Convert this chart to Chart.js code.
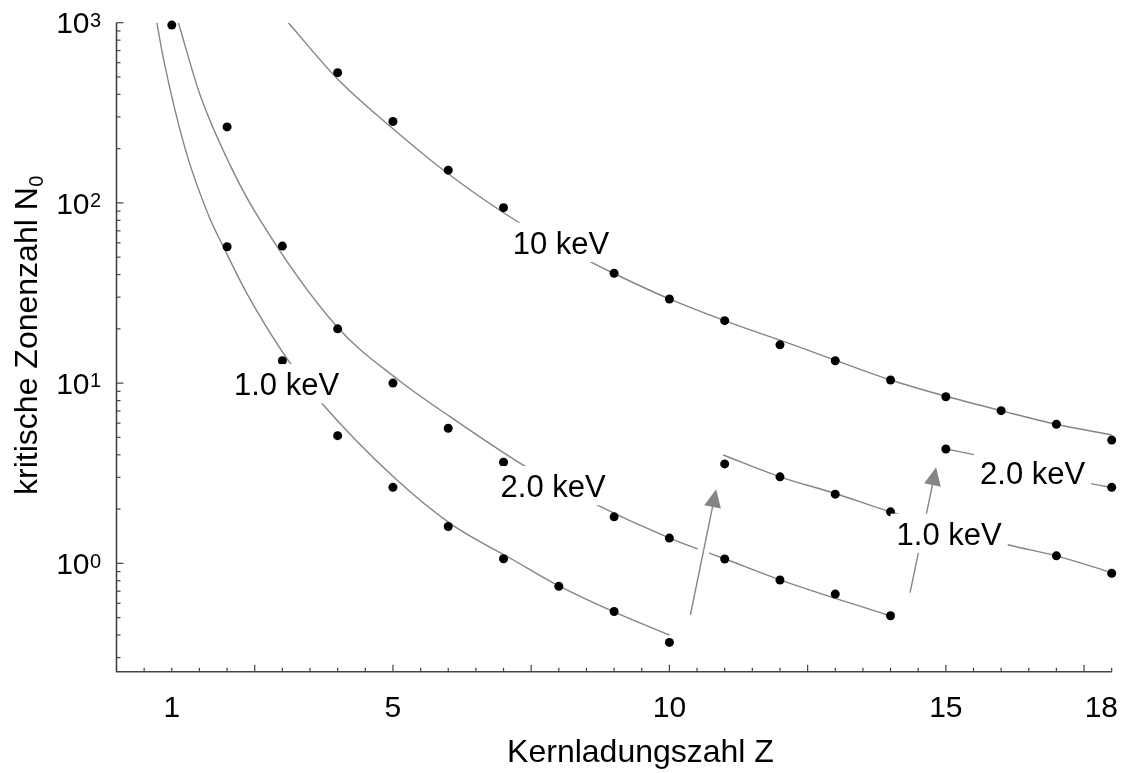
<!DOCTYPE html>
<html>
<head>
<meta charset="utf-8">
<script src="https://cdn.jsdelivr.net/npm/chart.js@4.4.1/dist/chart.umd.min.js"></script>
<style>
  html, body { margin: 0; padding: 0; background: #fff; }
  #wrap { width: 1135px; height: 773px; }
</style>
</head>
<body>
<div id="wrap"><canvas id="chart" width="1135" height="773"></canvas></div>
<script>
const z1K = [1, 2, 3, 4, 5, 6, 7, 8, 9, 10];
const n1K = [970, 57.1, 13.3, 5.11, 2.64, 1.60, 1.06, 0.745, 0.54, 0.364];
const z2K = [2, 3, 4, 5, 6, 7, 9, 10, 11, 12, 13, 14];
const n2K = [264, 57.6, 20.0, 10.0, 5.62, 3.64, 1.81, 1.38, 1.057, 0.808, 0.675, 0.512];
const z10 = [4, 5, 6, 7, 9, 10, 11, 12, 13, 14, 15, 16, 17, 18];
const n10 = [528, 283, 152, 94.1, 40.7, 29.3, 22.2, 16.3, 13.3, 10.4, 8.4, 7.03, 5.91, 4.83];
const z1L = [11, 12, 13, 14, 17, 18];
const n1L = [3.56, 3.02, 2.42, 1.93, 1.10, 0.88];
const z2L = [15, 18];
const n2L = [4.31, 2.64];

// fitted curves, sampled from the figure
const fit1Kz = [0.73, 0.848, 1.241, 1.662, 1.933, 2.357, 3.14, 3.713, 5.008, 6.034, 7.178, 7.992, 8.987, 10.0];
const fit1Kn = [1000, 634, 200, 85.7, 57.1, 31.5, 12.9, 7.73, 3.02, 1.667, 1.043, 0.751, 0.539, 0.40];
const fit2Kz = [1.12, 1.512, 2.055, 2.537, 3.984, 5.099, 6.034, 7.421, 8.566, 10.013, 11, 12, 14];
const fit2Kn = [1000, 397, 162, 86, 20.6, 10.4, 6.51, 3.41, 2.197, 1.376, 1.06, 0.81, 0.51];
const fit10z = [3.109, 3.984, 4.948, 5.974, 7.30, 8.566, 8.987, 10, 11, 12.364, 14, 15, 16, 17, 18];
const fit10n = [1000, 492, 266, 147, 77.1, 47.2, 40.7, 29.3, 22.2, 15.8, 10.4, 8.45, 7.03, 5.91, 5.15];
const fit1Lz = [10.97, 12, 13, 14, 16.16, 17, 18];
const fit1Ln = [3.99, 3.02, 2.44, 1.93, 1.26, 1.10, 0.887];
const fit2Lz = [15, 15.53, 17.64, 18];
const fit2Ln = [4.31, 4.0, 2.76, 2.64];

// curve labels
const labelText = ['1.0 keV', '10 keV', '2.0 keV', '1.0 keV', '2.0 keV'];
const labelZ = [3.076, 8.04, 7.897, 15.06, 16.57];
const labelN = [9.86, 60.0, 2.68, 1.458, 3.18];

// shell-edge arrows
const arrowFromZ = [10.38, 14.353];
const arrowFromN = [0.517, 0.687];
const arrowToZ = [10.846, 14.824];
const arrowToN = [2.575, 3.41];

// axes
const xTickLabels = [1, 5, 10, 15, 18];
const yTickDecades = [0, 1, 2, 3];

const FONT = '"Liberation Sans", Arial, Helvetica, sans-serif';
const GREY = '#858585';
const AXIS = '#444';

function pts(zs, ns) { return zs.map((z, i) => ({ x: z, y: ns[i] })); }

const fitStyle = {
  showLine: true, pointRadius: 0, borderColor: GREY, borderWidth: 1.4,
  cubicInterpolationMode: 'monotone', order: 2
};
const dotStyle = {
  showLine: false, pointRadius: 4.5, pointBackgroundColor: '#000',
  pointBorderWidth: 0, clip: false, order: 1
};

const annotations = {
  id: 'annotations',
  afterDatasetsDraw(chart) {
    const ctx = chart.ctx, xs = chart.scales.x, ys = chart.scales.y;
    ctx.save();
    // arrows with white halo
    for (let i = 0; i < arrowFromZ.length; i++) {
      const x0 = xs.getPixelForValue(arrowFromZ[i]), y0 = ys.getPixelForValue(arrowFromN[i]);
      const x1 = xs.getPixelForValue(arrowToZ[i]), y1 = ys.getPixelForValue(arrowToN[i]);
      const a = Math.atan2(y1 - y0, x1 - x0);
      const hl = 18, hw = 8.5;
      const bx = x1 - hl * Math.cos(a), by = y1 - hl * Math.sin(a);
      ctx.lineCap = 'butt';
      ctx.strokeStyle = '#fff'; ctx.lineWidth = 12;
      ctx.beginPath(); ctx.moveTo(x0, y0); ctx.lineTo(bx, by); ctx.stroke();
      ctx.strokeStyle = GREY; ctx.lineWidth = 1.4;
      ctx.beginPath(); ctx.moveTo(x0, y0); ctx.lineTo(bx + 2 * Math.cos(a), by + 2 * Math.sin(a)); ctx.stroke();
      ctx.fillStyle = GREY;
      ctx.beginPath();
      ctx.moveTo(x1, y1);
      ctx.lineTo(bx + hw * Math.sin(a), by - hw * Math.cos(a));
      ctx.lineTo(bx - hw * Math.sin(a), by + hw * Math.cos(a));
      ctx.closePath(); ctx.fill();
    }
    // labels on white boxes
    ctx.font = '31px ' + FONT;
    ctx.textAlign = 'center';
    ctx.textBaseline = 'alphabetic';
    const cap = 22.2;
    labelText.forEach((t, i) => {
      const w = ctx.measureText(t).width;
      const cx = xs.getPixelForValue(labelZ[i]);
      const base = ys.getPixelForValue(labelN[i]) + cap / 2;
      ctx.fillStyle = '#fff';
      ctx.fillRect(cx - w / 2 - 6, base - cap - 9, w + 12, cap + 17);
      ctx.fillStyle = '#000';
      ctx.fillText(t, cx, base);
    });
    ctx.restore();
  },
  afterDraw(chart) {
    const ctx = chart.ctx, xs = chart.scales.x, ys = chart.scales.y;
    const { left, right, top, bottom } = chart.chartArea;
    ctx.save();
    ctx.strokeStyle = AXIS;
    ctx.lineWidth = 1.6;
    ctx.beginPath();
    ctx.moveTo(left, top); ctx.lineTo(left, bottom); ctx.lineTo(right, bottom);
    ctx.stroke();
    ctx.lineWidth = 1.2;
    // x ticks every 0.5, long ones every 2.5
    for (let k = 1; k <= 36; k++) {
      const px = xs.getPixelForValue(k / 2);
      const len = (k % 5 === 0) ? 7 : 4;
      ctx.beginPath(); ctx.moveTo(px, bottom); ctx.lineTo(px, bottom - len); ctx.stroke();
    }
    // y ticks 1..9 per decade
    for (let d = -1; d <= 3; d++) {
      for (let m = 1; m <= 9; m++) {
        const v = m * Math.pow(10, d);
        if (v < ys.min || v > ys.max + 1e-9) continue;
        const py = ys.getPixelForValue(v);
        const len = m === 1 ? 7 : 4;
        ctx.beginPath(); ctx.moveTo(left, py); ctx.lineTo(left + len, py); ctx.stroke();
      }
    }
    ctx.fillStyle = '#000';
    ctx.textBaseline = 'alphabetic';
    // x tick labels
    ctx.font = '30px ' + FONT;
    ctx.textAlign = 'center';
    xTickLabels.forEach(v => {
      const t = String(v);
      const w = ctx.measureText(t).width;
      const px = Math.min(xs.getPixelForValue(v), chart.width - 17 - w / 2);
      ctx.fillText(t, px, bottom + 45.6);
    });
    // y tick labels 10^n
    yTickDecades.forEach(d => {
      const py = ys.getPixelForValue(Math.pow(10, d));
      ctx.font = '30px ' + FONT;
      ctx.textAlign = 'right';
      ctx.fillText('10', left - 27, py + 10.6);
      ctx.font = '20px ' + FONT;
      ctx.textAlign = 'left';
      ctx.fillText(String(d), left - 26.5, py + 4.2);
    });
    // axis titles
    ctx.font = '32px ' + FONT;
    ctx.textAlign = 'center';
    ctx.fillText('Kernladungszahl Z', 640.5, 762);
    ctx.translate(36.7, 335.5);
    ctx.rotate(-Math.PI / 2);
    const main = 'kritische Zonenzahl N';
    const wm = ctx.measureText(main).width;
    ctx.font = '20px ' + FONT;
    const ws = ctx.measureText('0').width;
    const x0 = -(wm + ws) / 2;
    ctx.textAlign = 'left';
    ctx.fillText('0', x0 + wm + 0.5, 6);
    ctx.font = '32px ' + FONT;
    ctx.fillText(main, x0, 0);
    ctx.restore();
  }
};

new Chart(document.getElementById('chart'), {
  type: 'scatter',
  data: {
    datasets: [
      Object.assign({ data: pts(z1K, n1K) }, dotStyle),
      Object.assign({ data: pts(z2K, n2K) }, dotStyle),
      Object.assign({ data: pts(z10, n10) }, dotStyle),
      Object.assign({ data: pts(z1L, n1L) }, dotStyle),
      Object.assign({ data: pts(z2L, n2L) }, dotStyle),
      Object.assign({ data: pts(fit1Kz, fit1Kn) }, fitStyle),
      Object.assign({ data: pts(fit2Kz, fit2Kn) }, fitStyle),
      Object.assign({ data: pts(fit10z, fit10n) }, fitStyle),
      Object.assign({ data: pts(fit1Lz, fit1Ln) }, fitStyle),
      Object.assign({ data: pts(fit2Lz, fit2Ln) }, fitStyle)
    ]
  },
  options: {
    responsive: false,
    animation: false,
    events: [],
    layout: { padding: { left: 116.5, right: 23.3, top: 22.7, bottom: 101.2 } },
    plugins: { legend: { display: false }, tooltip: { enabled: false } },
    scales: {
      x: { type: 'linear', min: 0, max: 18, display: false },
      y: { type: 'logarithmic', min: 0.25, max: 1000, display: false }
    }
  },
  plugins: [annotations]
});
</script>
</body>
</html>
